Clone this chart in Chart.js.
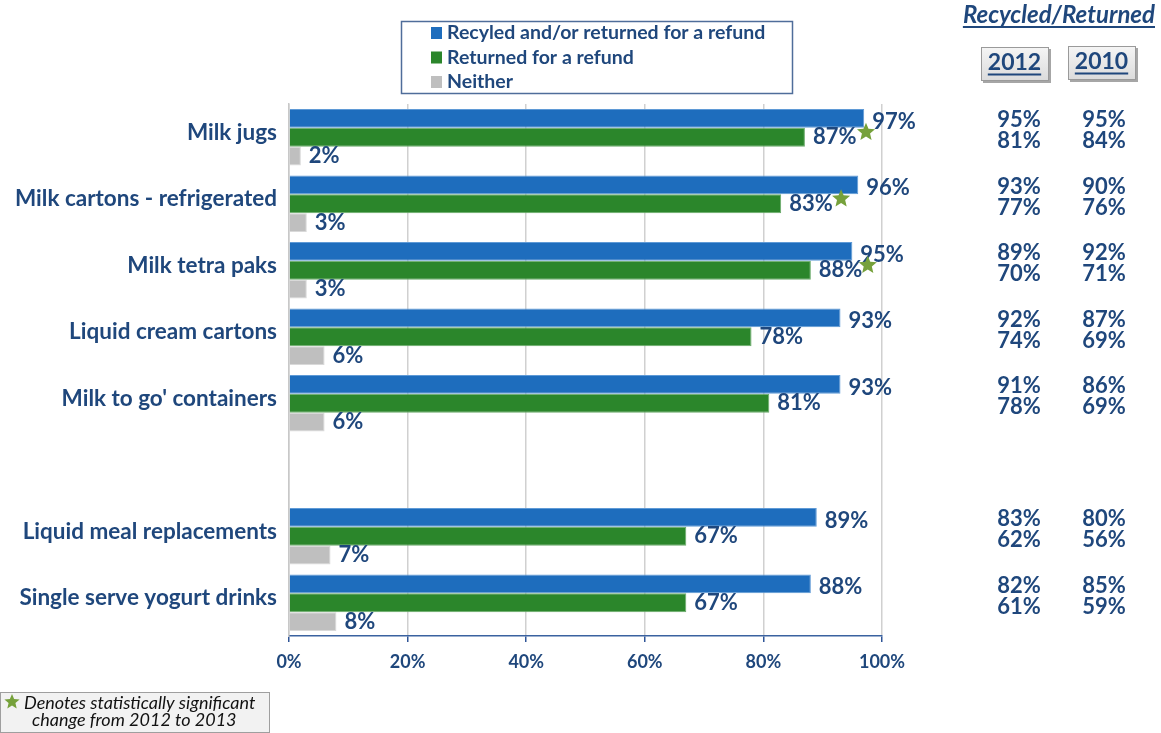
<!DOCTYPE html>
<html>
<head>
<meta charset="utf-8">
<script src="https://cdn.jsdelivr.net/npm/chart.js"></script>
<style>
  html, body { margin: 0; padding: 0; background: #ffffff; }
  #wrap { position: relative; width: 1161px; height: 733px; }
</style>
</head>
<body>
<div id="wrap"><canvas id="chart" width="1161" height="733"></canvas></div>
<script>
// Packaging categories (blank slot separates the two groups)
const categories = [
  'Milk jugs',
  'Milk cartons - refrigerated',
  'Milk tetra paks',
  'Liquid cream cartons',
  "Milk to go' containers",
  '',
  'Liquid meal replacements',
  'Single serve yogurt drinks'
];

// Current-year shares (%)
const recycledOrReturned = [97, 96, 95, 93, 93, null, 89, 88];
const returnedForRefund  = [87, 83, 88, 78, 81, null, 67, 67];
const neither            = [2, 3, 3, 6, 6, null, 7, 8];

// Significance markers (value on the % axis where the star sits)
const significantStar = [97.3, 93.1, 97.6, null, null, null, null, null];

// Comparison columns: Recycled/Returned, then Returned for a refund
const recycled2012 = [95, 93, 89, 92, 91, null, 83, 82];
const returned2012 = [81, 77, 70, 74, 78, null, 62, 61];
const recycled2010 = [95, 90, 92, 87, 86, null, 80, 85];
const returned2010 = [84, 76, 71, 69, 69, null, 56, 59];

const seriesNames = ['Recyled and/or returned for a refund', 'Returned for a refund', 'Neither'];
const seriesColors = ['#1e6dbd', '#2b862b', '#bfbfbf'];
const seriesBorders = ['#5f9ad6', '#6aaa6a', '#d9d9d9'];
const yearHeaders = ['2012', '2010'];

const TEXT = '#1f477c';
const STAR = '#76a13b';
const FONT = 'Lato, "Open Sans", sans-serif';

function drawStar(ctx, cx, cy, r) {
  ctx.save();
  ctx.beginPath();
  for (let i = 0; i < 10; i++) {
    const rad = i % 2 === 0 ? r : r * 0.45;
    const a = -Math.PI / 2 + i * Math.PI / 5;
    const px = cx + rad * Math.cos(a);
    const py = cy + rad * Math.sin(a);
    if (i === 0) ctx.moveTo(px, py); else ctx.lineTo(px, py);
  }
  ctx.closePath();
  ctx.fillStyle = STAR;
  ctx.fill();
  ctx.restore();
}

const decorations = {
  id: 'decorations',
  afterDatasetsDraw(chart) {
    const ctx = chart.ctx;
    const xs = chart.scales.x;
    const ys = chart.scales.y;
    ctx.save();

    // value labels at the end of every bar
    ctx.font = 'bold 22px ' + FONT;
    ctx.fillStyle = TEXT;
    ctx.textAlign = 'left';
    ctx.textBaseline = 'middle';
    chart.data.datasets.forEach((ds, di) => {
      const meta = chart.getDatasetMeta(di);
      meta.data.forEach((bar, i) => {
        const v = ds.data[i];
        if (v == null) return;
        const dy = di === 0 ? 3 : 0;
        ctx.fillText(v + '%', bar.x + 8, bar.y + dy);
      });
    });

    // significance stars
    const greenMeta = chart.getDatasetMeta(1);
    significantStar.forEach((v, i) => {
      if (v == null) return;
      const bar = greenMeta.data[i];
      drawStar(ctx, xs.getPixelForValue(v), bar.y - 5, 9.5);
    });

    // comparison columns
    const col2012 = 1019, col2010 = 1104;
    ctx.fillStyle = TEXT;
    ctx.textAlign = 'center';
    ctx.font = 'bold 22px ' + FONT;
    categories.forEach((c, i) => {
      if (recycled2012[i] == null) return;
      const cy = ys.getPixelForValue(i);
      ctx.fillText(recycled2012[i] + '%', col2012, cy - 17);
      ctx.fillText(returned2012[i] + '%', col2012, cy + 4);
      ctx.fillText(recycled2010[i] + '%', col2010, cy - 17);
      ctx.fillText(returned2010[i] + '%', col2010, cy + 4);
    });

    ctx.restore();
  },
  afterDraw(chart) {
    const ctx = chart.ctx;
    ctx.save();

    // legend box
    ctx.fillStyle = '#ffffff';
    ctx.fillRect(401, 21, 391, 72);
    ctx.strokeStyle = '#4f6d9a';
    ctx.lineWidth = 1.5;
    ctx.strokeRect(401.5, 21.5, 391, 72);
    ctx.font = 'bold 19.5px ' + FONT;
    ctx.textAlign = 'left';
    ctx.textBaseline = 'middle';
    seriesNames.forEach((name, i) => {
      const cy = 33 + i * 24.5;
      ctx.fillStyle = seriesColors[i];
      ctx.fillRect(431, cy - 6, 11, 12);
      ctx.fillStyle = TEXT;
      ctx.fillText(name, 447, cy);
    });

    // column header
    ctx.fillStyle = TEXT;
    ctx.font = 'italic bold 24px ' + FONT;
    ctx.textAlign = 'right';
    ctx.fillText('Recycled/Returned', 1155, 15);
    const hw = ctx.measureText('Recycled/Returned').width;
    ctx.fillRect(1155 - hw, 26, hw, 2);

    // year boxes
    const boxes = [[981, 47], [1068, 46]];
    yearHeaders.forEach((yr, i) => {
      const [bx, by] = boxes[i];
      const w = 67, h = 33;
      ctx.fillStyle = '#a6a6a6';
      ctx.fillRect(bx + 2, by + 2, w + 1, h + 1);
      const g = ctx.createLinearGradient(0, by, 0, by + h);
      g.addColorStop(0, '#f5f5f5');
      g.addColorStop(1, '#dcdcdc');
      ctx.fillStyle = g;
      ctx.fillRect(bx, by, w, h);
      ctx.strokeStyle = '#9a9a9a';
      ctx.lineWidth = 1;
      ctx.strokeRect(bx + 0.5, by + 0.5, w, h);
      ctx.fillStyle = TEXT;
      ctx.font = 'bold 23px ' + FONT;
      ctx.textAlign = 'center';
      ctx.fillText(yr, bx + w / 2, by + h / 2 - 1);
      const tw = ctx.measureText(yr).width;
      ctx.fillRect(bx + w / 2 - tw / 2, by + h / 2 + 10, tw, 2);
    });

    // footnote
    ctx.fillStyle = '#f2f2f2';
    ctx.fillRect(0, 692, 270, 41);
    ctx.strokeStyle = '#9f9f9f';
    ctx.lineWidth = 1;
    ctx.strokeRect(0.5, 692.5, 269, 40);
    drawStar(ctx, 12, 702, 8);
    ctx.fillStyle = '#111111';
    ctx.font = 'italic 18px ' + FONT;
    ctx.textAlign = 'left';
    ctx.fillText('Denotes statistically significant', 24, 703);
    ctx.fillText('change from 2012 to 2013', 32, 720);

    ctx.restore();
  }
};

new Chart(document.getElementById('chart'), {
  type: 'bar',
  data: {
    labels: categories,
    datasets: [
      { label: seriesNames[0], data: recycledOrReturned, backgroundColor: seriesColors[0], borderColor: seriesBorders[0], borderWidth: 1 },
      { label: seriesNames[1], data: returnedForRefund, backgroundColor: seriesColors[1], borderColor: seriesBorders[1], borderWidth: 1 },
      { label: seriesNames[2], data: neither, backgroundColor: seriesColors[2], borderColor: seriesBorders[2], borderWidth: 1 }
    ]
  },
  options: {
    indexAxis: 'y',
    responsive: false,
    animation: false,
    categoryPercentage: 0.85,
    barPercentage: 1.0,
    layout: { padding: { left: 0, top: 104, right: 279, bottom: 57 } },
    plugins: {
      legend: { display: false },
      tooltip: { enabled: false }
    },
    scales: {
      x: {
        min: 0,
        max: 100,
        ticks: {
          stepSize: 20,
          callback: v => v + '%',
          color: TEXT,
          font: { family: FONT, size: 18, weight: 'bold' },
          padding: 9
        },
        grid: { color: '#d0d0d0', lineWidth: 1.5, tickColor: '#2f5597', tickLength: 6 },
        border: { color: '#3a62a0', width: 1.5 },
        afterFit: s => { s.height = 40; }
      },
      y: {
        ticks: {
          color: TEXT,
          font: { family: FONT, size: 22.5, weight: 'bold' },
          padding: 12,
          labelOffset: -5,
          autoSkip: false
        },
        grid: { display: false, drawTicks: false },
        border: { color: '#c8c8c8', width: 1.5 },
        afterFit: s => { s.width = 289; }
      }
    }
  },
  plugins: [decorations]
});
</script>
</body>
</html>
